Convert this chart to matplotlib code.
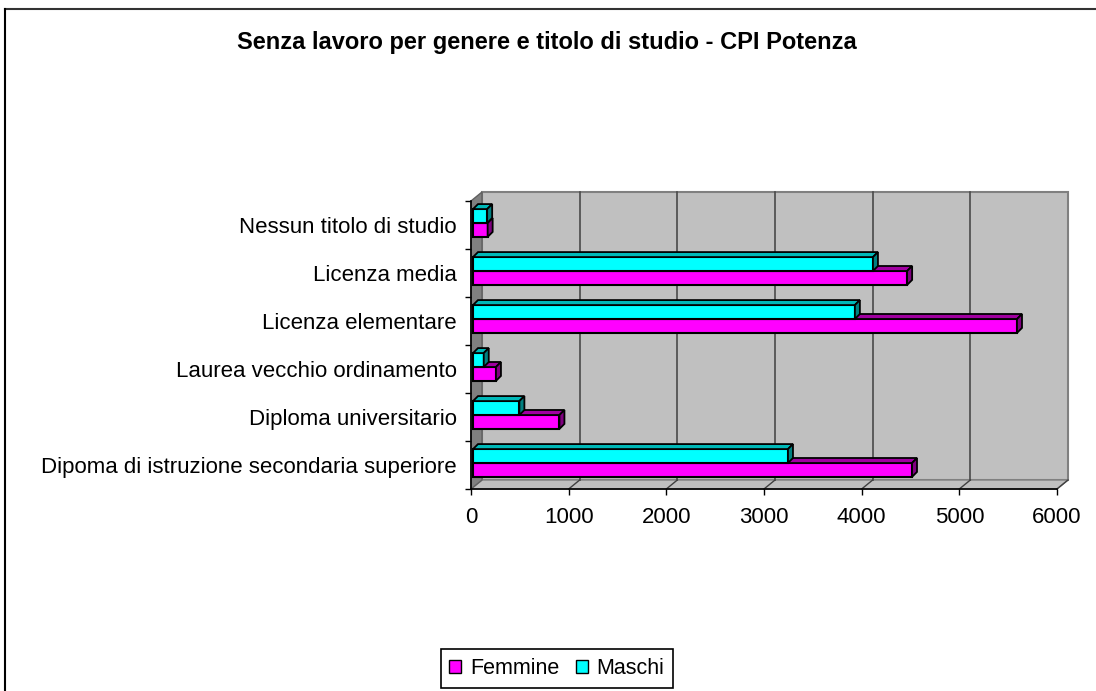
import matplotlib
matplotlib.use("Agg")
import matplotlib.pyplot as plt
from matplotlib.patches import Polygon, Patch
from matplotlib.lines import Line2D
from matplotlib.transforms import IdentityTransform, ScaledTranslation
import numpy as np

# data (bottom to top, as drawn)
categories = ["Dipoma di istruzione secondaria superiore",
              "Diploma universitario",
              "Laurea vecchio ordinamento",
              "Licenza elementare",
              "Licenza media",
              "Nessun titolo di studio"]
femmine = [4495, 885, 235, 5570, 4445, 150]
maschi = [3225, 475, 110, 3910, 4095, 145]
xticks = [0, 1000, 2000, 3000, 4000, 5000, 6000]
series_names = ["Femmine", "Maschi"]

MAG, CYA = "#ff00ff", "#00ffff"
MAG_TOP, MAG_SIDE = "#a000a0", "#800080"
CYA_TOP, CYA_SIDE = "#00b8b8", "#008080"
FS = 16

W, H = 1096, 691
plt.rcParams['font.family'] = ['Liberation Sans', 'DejaVu Sans']
fig = plt.figure(figsize=(W / 100, H / 100), dpi=100)
ax = fig.add_axes([471 / W, 1 - 489 / H, 586 / W, 288 / H])
ax.set_xlim(0, 6000)
ax.set_ylim(-0.5, len(categories) - 0.5)
ax.set_facecolor("none")

DX, DY = 11, 9      # wall depth in pixels
BD = 5              # bar depth in pixels
BX, BY = 2, 2       # bar offset from front plane
ident = IdentityTransform()


def px(x, y):
    return ax.transData.transform((x, y))


def back(p):
    return (p[0] + DX, p[1] + DY)


ylo, yhi = -0.5, len(categories) - 0.5
xmax = xticks[-1]

# back wall
f = [px(0, ylo), px(xmax, ylo), px(xmax, yhi), px(0, yhi)]
ax.add_patch(Polygon([back(p) for p in f], closed=True, fc="#c0c0c0",
                     ec="#808080", lw=1.5, transform=ident, clip_on=False,
                     zorder=0.5))
# floor
a, b = px(0, ylo), px(xmax, ylo)
ax.add_patch(Polygon([a, b, back(b), back(a)], closed=True, fc="#c0c0c0",
                     ec="#808080", lw=1, transform=ident, clip_on=False,
                     zorder=0.6))
# left side wall
a, b = px(0, ylo), px(0, yhi)
ax.add_patch(Polygon([a, b, back(b), back(a)], closed=True, fc="#808080",
                     ec="#606060", lw=1, transform=ident, clip_on=False,
                     zorder=0.7))
# gridlines on wall and floor
for t in xticks[1:-1]:
    p0, p1 = back(px(t, ylo)), back(px(t, yhi))
    ax.add_line(Line2D([p0[0], p1[0]], [p0[1], p1[1]], color="#4a4a4a",
                       lw=1.2, transform=ident, clip_on=False, zorder=0.8))
for t in xticks[1:]:
    p0 = px(t, ylo)
    p1 = back(p0)
    ax.add_line(Line2D([p0[0], p1[0]], [p0[1], p1[1]], color="#404040",
                       lw=1, transform=ident, clip_on=False, zorder=0.8))

# bars
yc = np.arange(len(categories))
h = 0.29
off = ScaledTranslation(BX / 100, BY / 100, fig.dpi_scale_trans)
specs = [(femmine, yc - h / 2, MAG, MAG_TOP, MAG_SIDE, 3),
         (maschi, yc + h / 2, CYA, CYA_TOP, CYA_SIDE, 4)]
for vals, ys, fc, ftop, fside, z in specs:
    bars = ax.barh(ys, vals, height=h, color=fc, edgecolor="black",
                   lw=1.5, zorder=z)
    for bar in bars:
        bar.set_transform(ax.transData + off)
        bar.set_clip_on(False)
        x0, y0 = px(bar.get_x(), bar.get_y())
        x1, y1 = px(bar.get_x() + bar.get_width(),
                    bar.get_y() + bar.get_height())
        x0 += BX; x1 += BX; y0 += BY; y1 += BY
        top = [(x0, y1), (x1, y1), (x1 + BD, y1 + BD), (x0 + BD, y1 + BD)]
        side = [(x1, y0), (x1 + BD, y0 + BD), (x1 + BD, y1 + BD), (x1, y1)]
        ax.add_patch(Polygon(top, closed=True, fc=ftop, ec="black", lw=1.3,
                             transform=ident, clip_on=False, zorder=z))
        ax.add_patch(Polygon(side, closed=True, fc=fside, ec="black", lw=1.3,
                             transform=ident, clip_on=False, zorder=z))

# axes
for s in ["top", "right"]:
    ax.spines[s].set_visible(False)
for s in ["left", "bottom"]:
    ax.spines[s].set_color("black")
    ax.spines[s].set_linewidth(1.2)
    ax.spines[s].set_zorder(5)
ax.set_xticks(xticks)
ax.set_xticklabels([str(t) for t in xticks], fontsize=FS)
ax.tick_params(axis="x", direction="out", length=4, width=1, pad=9)
ax.set_yticks(np.arange(-0.5, len(categories)))
ax.set_yticklabels([])
ax.set_yticks(yc, minor=True)
ax.set_yticklabels(categories, minor=True, fontsize=FS)
ax.tick_params(axis="y", which="major", direction="out", length=4, width=1)
ax.tick_params(axis="y", which="minor", length=0, pad=10)

fig.text(547 / W, 1 - 42 / H,
         "Senza lavoro per genere e titolo di studio - CPI Potenza",
         ha="center", va="center", fontsize=17, fontweight="bold")

leg = fig.legend(handles=[Patch(fc=MAG, ec="black"), Patch(fc=CYA, ec="black")],
                 labels=series_names, loc="center",
                 bbox_to_anchor=(557 / W, 1 - 668.5 / H), ncol=2,
                 frameon=True, fancybox=False, edgecolor="black",
                 framealpha=1, fontsize=15.5, handlelength=0.55,
                 handleheight=0.55, handletextpad=0.4, columnspacing=0.8,
                 borderpad=0.4)
leg.get_frame().set_linewidth(1.2)

# chart area border
fig.add_artist(Line2D([4.5 / W, 1], [1 - 9 / H, 1 - 9 / H], color="#333333",
                      lw=1.5, transform=fig.transFigure))
fig.add_artist(Line2D([4.5 / W, 4.5 / W], [1 - 9 / H, 0], color="black",
                      lw=1.5, transform=fig.transFigure))

fig.savefig("out.png", dpi=100, facecolor="white")
